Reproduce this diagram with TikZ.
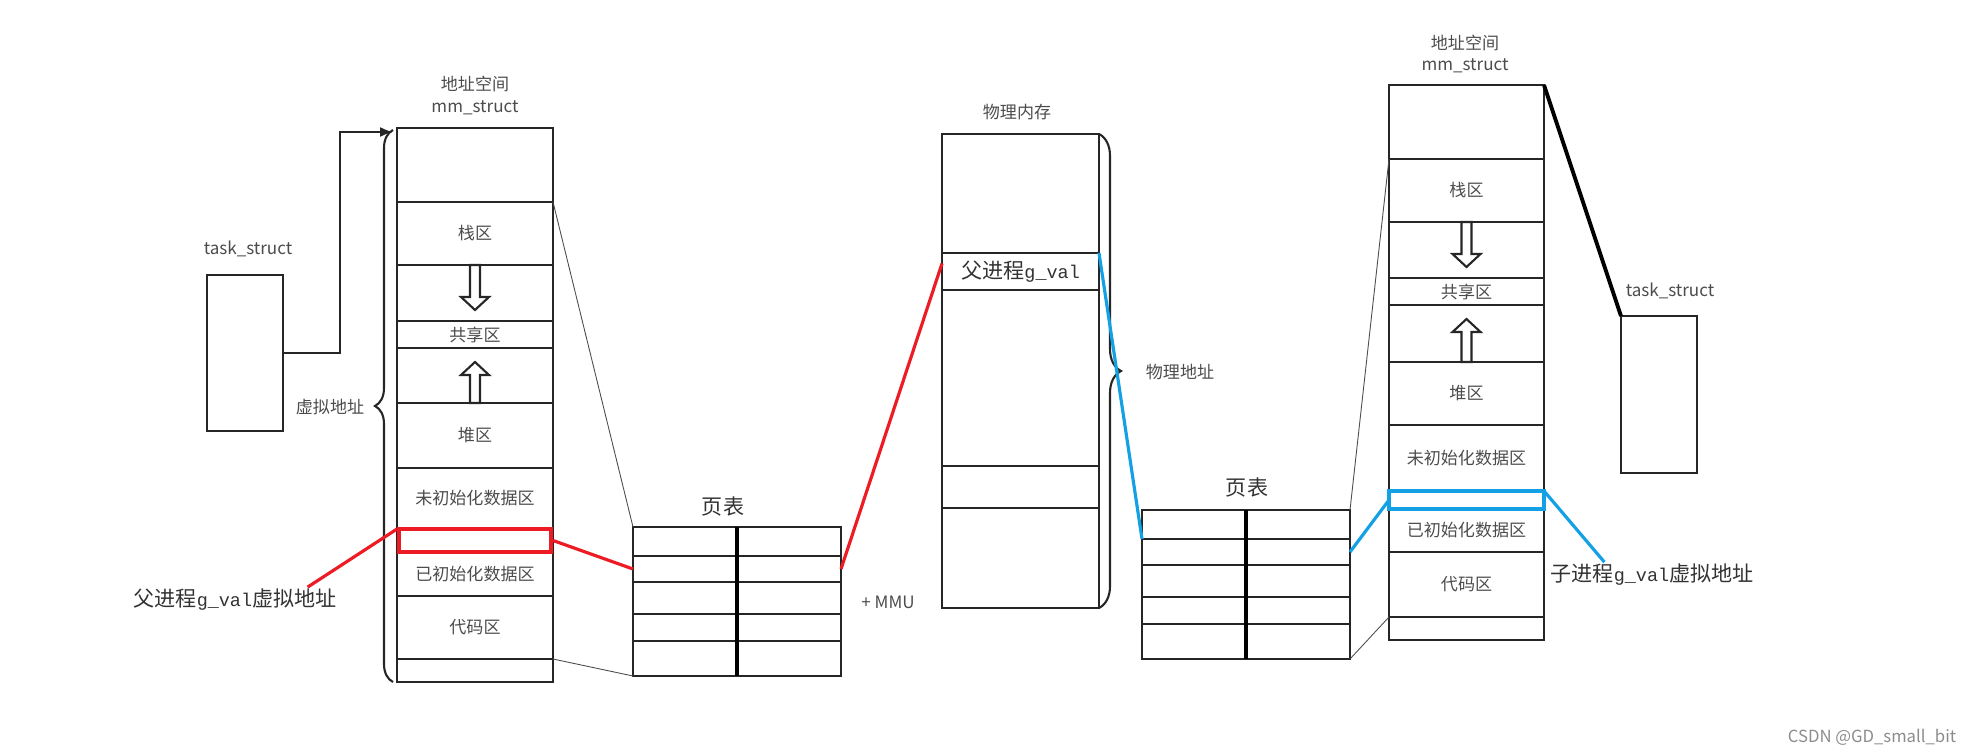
\documentclass[tikz,border=0pt]{standalone}
\usepackage{fontspec}
\setmainfont{Noto Sans CJK SC}
\setmonofont{Liberation Mono}
\usetikzlibrary{arrows.meta,decorations.pathreplacing}
\definecolor{gvalred}{RGB}{237,28,36}
\definecolor{gvalblue}{RGB}{20,160,228}

\begin{document}
\begin{tikzpicture}[
    seg/.style     = {draw=black!85, line width=1.3pt, minimum width=3.12cm,
                      inner sep=0pt, outer sep=0pt, anchor=north,
                      font=\fontsize{9.7}{11}\selectfont, text=black!70},
    ptrow/.style   = {draw=black!85, line width=1.3pt, minimum width=4.16cm,
                      inner sep=0pt, outer sep=0pt, anchor=north},
    taskbox/.style = {draw=black!85, line width=1.3pt, minimum width=1.52cm,
                      outer sep=0pt},
    lbl/.style     = {font=\fontsize{9.7}{12}\selectfont, text=black!70, inner sep=1pt},
    big/.style     = {font=\fontsize{12}{14}\selectfont, text=black!80, inner sep=1pt},
    hollow/.style  = {draw=black!85, line width=1.2pt, fill=white},
    guide/.style   = {draw=black!70, line width=0.5pt},
    redline/.style = {draw=gvalred, line width=1.8pt},
    blueline/.style= {draw=gvalblue, line width=1.8pt},
    brc/.style     = {draw=black!85, line width=1.2pt, decorate,
                      decoration={brace, amplitude=#1}},
  ]
    \useasboundingbox (0,0) rectangle (39.44,-15.08);

    % parent: task_struct and its mm_struct
    \node[taskbox, minimum height=3.12cm] (ltask) at (4.90,-7.06) {};
    \node[lbl] (ltasklbl) at (4.96,-4.98) {task\_struct};
    \node[lbl, align=center] (laddr) at (9.50,-1.91) {地址空间\\mm\_struct};

    \node[seg, minimum height=1.48cm] (ltop)   at (9.50,-2.56)    {};
    \node[seg, minimum height=1.26cm] (lstack) at (ltop.south)    {栈区};
    \node[seg, minimum height=1.12cm] (lgrowd) at (lstack.south)  {};
    \node[seg, minimum height=0.54cm] (lshare) at (lgrowd.south)  {共享区};
    \node[seg, minimum height=1.10cm] (lgrowu) at (lshare.south)  {};
    \node[seg, minimum height=1.30cm] (lheap)  at (lgrowu.south)  {堆区};
    \node[seg, minimum height=1.22cm] (lbss)   at (lheap.south)   {未初始化数据区};
    \node[seg, minimum height=0.46cm] (lslot)  at (lbss.south)    {};
    \node[seg, minimum height=0.88cm] (linit)  at (lslot.south)   {已初始化数据区};
    \node[seg, minimum height=1.26cm] (lcode)  at (linit.south)   {代码区};
    \node[seg, minimum height=0.46cm] (lbot)   at (lcode.south)   {};

    \draw[hollow, shift={(lgrowd.north)}] (-0.10,0) -- (-0.10,-0.64) -- (-0.28,-0.64)
        -- (0,-0.90) -- (0.28,-0.64) -- (0.10,-0.64) -- (0.10,0) -- cycle;
    \draw[hollow, shift={(lgrowu.south)}] (-0.10,0) -- (-0.10,0.56) -- (-0.28,0.56)
        -- (0,0.82) -- (0.28,0.56) -- (0.10,0.56) -- (0.10,0) -- cycle;

    \draw[brc=0.36cm] ([xshift=-0.08cm]lbot.south west) -- ([xshift=-0.08cm,yshift=-0.04cm]ltop.north west);
    \node[lbl] (lvirt) at (6.60,-8.14) {虚拟地址};
    \draw[black!85, line width=1.2pt, -{Latex[length=0.26cm,width=0.2cm]}]
        (ltask.east) -- ++(1.14,0) |- ([xshift=-0.08cm,yshift=-0.08cm]ltop.north west);

    % page table of the parent
    \node[big] (pt1lbl) at (14.46,-10.14) {页表};
    \node[ptrow, minimum height=0.58cm] (pt1r1) at (14.74,-10.54) {};
    \node[ptrow, minimum height=0.52cm] (pt1r2) at (pt1r1.south)  {};
    \node[ptrow, minimum height=0.64cm] (pt1r3) at (pt1r2.south)  {};
    \node[ptrow, minimum height=0.54cm] (pt1r4) at (pt1r3.south)  {};
    \node[ptrow, minimum height=0.70cm] (pt1r5) at (pt1r4.south)  {};
    \draw[black, line width=1.8pt] (pt1r1.north) -- (pt1r5.south);
    \node[lbl] (mmu) at (17.76,-12.04) {+ MMU};

    % physical memory
    \node[lbl] (pmlbl) at (20.34,-2.24) {物理内存};
    \node[seg, minimum width=3.14cm, minimum height=2.38cm] (pm1) at (20.41,-2.68) {};
    \node[seg, minimum width=3.14cm, minimum height=0.74cm, big] (pg) at (pm1.south)
        {父进程{\ttfamily\fontsize{10.5}{12}\selectfont g\_val}};
    \node[seg, minimum width=3.14cm, minimum height=3.52cm] (pm2) at (pg.south)  {};
    \node[seg, minimum width=3.14cm, minimum height=0.84cm] (pm3) at (pm2.south) {};
    \node[seg, minimum width=3.14cm, minimum height=2.00cm] (pm4) at (pm3.south) {};
    \draw[brc=0.44cm] (pm1.north east) -- (pm4.south east);
    \node[lbl] (pmaddr) at (23.60,-7.44) {物理地址};

    % page table of the child
    \node[big] (pt2lbl) at (24.94,-9.76) {页表};
    \node[ptrow, minimum height=0.58cm] (pt2r1) at (24.92,-10.20) {};
    \node[ptrow, minimum height=0.52cm] (pt2r2) at (pt2r1.south)  {};
    \node[ptrow, minimum height=0.64cm] (pt2r3) at (pt2r2.south)  {};
    \node[ptrow, minimum height=0.54cm] (pt2r4) at (pt2r3.south)  {};
    \node[ptrow, minimum height=0.70cm] (pt2r5) at (pt2r4.south)  {};
    \draw[black, line width=1.8pt] (pt2r1.north) -- (pt2r5.south);

    % child: mm_struct and task_struct
    \node[lbl, align=center] (raddr) at (29.30,-1.08) {地址空间\\mm\_struct};
    \node[seg, minimum width=3.10cm, minimum height=1.48cm] (rtop)   at (29.33,-1.70)  {};
    \node[seg, minimum width=3.10cm, minimum height=1.26cm] (rstack) at (rtop.south)   {栈区};
    \node[seg, minimum width=3.10cm, minimum height=1.12cm] (rgrowd) at (rstack.south) {};
    \node[seg, minimum width=3.10cm, minimum height=0.54cm] (rshare) at (rgrowd.south) {共享区};
    \node[seg, minimum width=3.10cm, minimum height=1.14cm] (rgrowu) at (rshare.south) {};
    \node[seg, minimum width=3.10cm, minimum height=1.26cm] (rheap)  at (rgrowu.south) {堆区};
    \node[seg, minimum width=3.10cm, minimum height=1.32cm] (rbss)   at (rheap.south)  {未初始化数据区};
    \node[seg, minimum width=3.10cm, minimum height=0.36cm] (rslot)  at (rbss.south)   {};
    \node[seg, minimum width=3.10cm, minimum height=0.86cm] (rinit)  at (rslot.south)  {已初始化数据区};
    \node[seg, minimum width=3.10cm, minimum height=1.30cm] (rcode)  at (rinit.south)  {代码区};
    \node[seg, minimum width=3.10cm, minimum height=0.46cm] (rbot)   at (rcode.south)  {};

    \draw[hollow, shift={(rgrowd.north)}] (-0.10,0) -- (-0.10,-0.64) -- (-0.28,-0.64)
        -- (0,-0.90) -- (0.28,-0.64) -- (0.10,-0.64) -- (0.10,0) -- cycle;
    \draw[hollow, shift={(rgrowu.south)}] (-0.10,0) -- (-0.10,0.60) -- (-0.28,0.60)
        -- (0,0.86) -- (0.28,0.60) -- (0.10,0.60) -- (0.10,0) -- cycle;

    \node[taskbox, minimum height=3.14cm] (rtask) at (33.18,-7.89) {};
    \node[lbl] (rtasklbl) at (33.40,-5.82) {task\_struct};
    \draw[black, line width=2.2pt] (rtop.north east) -- (rtask.north west);

    % page table edges
    \draw[guide] (lstack.north east) -- (pt1r1.north west);
    \draw[guide] (lcode.south east) -- (pt1r5.south west);
    \draw[guide] (pt2r1.north east) -- (rstack.north west);
    \draw[guide] (pt2r5.south east) -- (rcode.south west);

    % g_val of the parent
    \node[big] (lpv) at (4.70,-12.00) {父进程{\ttfamily\fontsize{10.5}{12}\selectfont g\_val}虚拟地址};
    \draw[redline] ([xshift=0.04cm]lslot.north west) rectangle ([xshift=-0.04cm]lslot.south east);
    \draw[redline] ([xshift=-0.62cm]lpv.north east) -- (lslot.north west);
    \draw[redline] (lslot.east) -- (pt1r2.west);
    \draw[redline] (pt1r2.east) -- ([yshift=0.16cm]pg.west);

    % g_val of the child
    \node[big] (rpv) at (33.04,-11.50) {子进程{\ttfamily\fontsize{10.5}{12}\selectfont g\_val}虚拟地址};
    \draw[blueline] (rslot.north west) rectangle (rslot.south east);
    \draw[blueline] (pg.north east) -- (pt2r2.north west);
    \draw[blueline] (pt2r2.east) -- (rslot.west);
    \draw[blueline] (rslot.north east) -- ([xshift=1.12cm]rpv.north west);

    \node[font=\fontsize{9.5}{11}\selectfont, text=black!45] (mark) at (37.44,-14.74) {CSDN @GD\_small\_bit};
\end{tikzpicture}
\end{document}
